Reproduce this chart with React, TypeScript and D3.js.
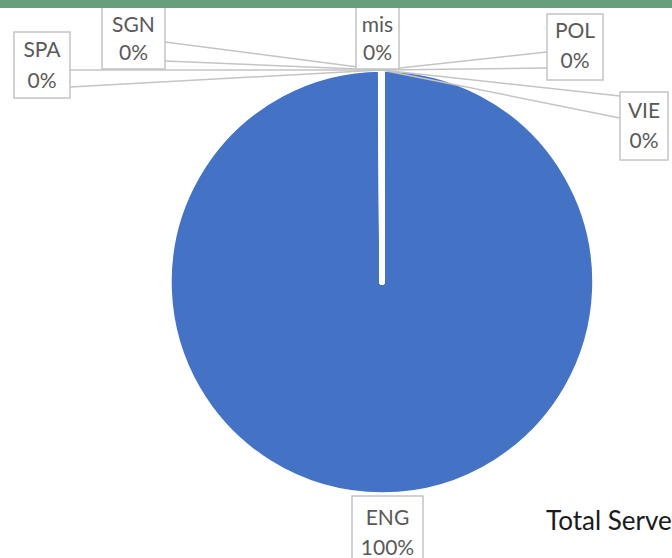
import React from "react";
import * as d3 from "d3";

const categories = ["ENG", "SPA", "SGN", "mis", "POL", "VIE"];
const counts = [4990, 1, 1, 1, 1, 1];
const percentLabels = ["100%", "0%", "0%", "0%", "0%", "0%"];
const sliceColors = ["#4472C4", "#ED7D31", "#A5A5A5", "#FFC000", "#5B9BD5", "#70AD47"];
const titleText = "Total Serve";

// label box layout (x, y, w, h), text baselines, leader anchor points
const labelLayout: Record<string, { x: number; y: number; w: number; h: number; b1: number; b2: number; anchors: [number, number][] }> = {
  ENG: { x: 352, y: 496, w: 71, h: 70, b1: 525, b2: 555, anchors: [] },
  SPA: { x: 14, y: 32, w: 56, h: 66, b1: 57, b2: 88, anchors: [[70, 87], [70, 70]] },
  SGN: { x: 102, y: 0, w: 63, h: 69, b1: 32, b2: 60, anchors: [[165, 42], [165, 61]] },
  mis: { x: 356, y: 0, w: 43, h: 69, b1: 32, b2: 60, anchors: [] },
  POL: { x: 547, y: 14, w: 56, h: 66, b1: 38, b2: 68, anchors: [[547, 52], [547, 68]] },
  VIE: { x: 620, y: 92, w: 48, h: 68, b1: 118, b2: 148, anchors: [[620, 96], [620, 118]] },
};

const W = 672;
const H = 558;
const cx = 382;
const cy = 282;
const R = 213;

export default function App() {
  const data = categories.map((c, i) => ({ cat: c, value: counts[i], pct: percentLabels[i], color: sliceColors[i] }));
  const pie = d3.pie<any>().sort(null).value((d) => d.value);
  const arcs = pie(data);
  const arc = d3.arc<any>().innerRadius(0).outerRadius(R);
  const edgeArc = d3.arc<any>().innerRadius(R - 1).outerRadius(R - 1);
  const font = "Lato, 'Open Sans', sans-serif";

  return (
    <svg width={W} height={H} style={{ position: "absolute", left: 0, top: 0, background: "#fff" }}>
      <g transform={`translate(${cx},${cy})`}>
        {arcs.map((a, i) => (
          <path key={i} d={arc(a) as string} fill={a.data.color} stroke="#fff" strokeWidth={5.5} strokeLinejoin="round" />
        ))}
      </g>
      {arcs.map((a, i) => {
        const lay = labelLayout[a.data.cat];
        const [px, py] = edgeArc.centroid(a);
        return lay.anchors.map((p, j) => (
          <line key={`${i}-${j}`} x1={p[0]} y1={p[1]} x2={cx + px} y2={cy + py} stroke="#c4c4c4" strokeWidth={1.5} />
        ));
      })}
      {arcs.map((a, i) => {
        const lay = labelLayout[a.data.cat];
        const mx = lay.x + lay.w / 2;
        return (
          <g key={`l${i}`}>
            <rect x={lay.x} y={lay.y} width={lay.w} height={lay.h} fill="#fff" stroke="#c4c4c4" strokeWidth={1.5} />
            <text x={mx} y={lay.b1} textAnchor="middle" fontFamily={font} fontSize={21} fill="#595959">{a.data.cat}</text>
            <text x={mx} y={lay.b2} textAnchor="middle" fontFamily={font} fontSize={21} fill="#595959">{a.data.pct}</text>
          </g>
        );
      })}
      <text x={546} y={530} fontFamily={font} fontSize={26} fill="#1a1a1a">{titleText}</text>
      <rect x={0} y={0} width={W} height={8} fill="#679e7b" />
    </svg>
  );
}
